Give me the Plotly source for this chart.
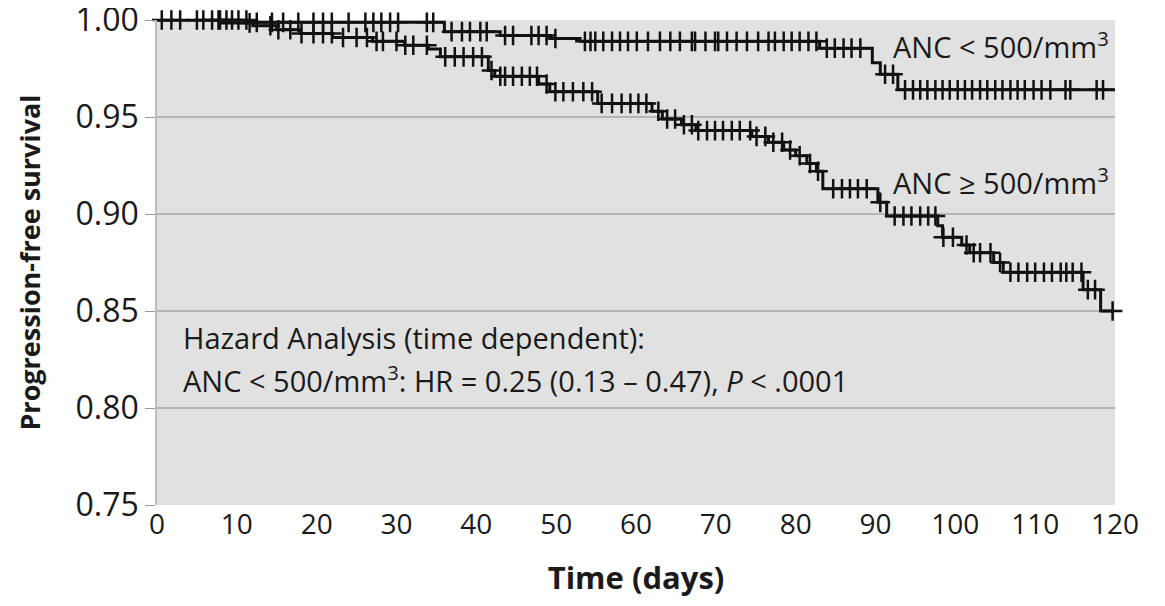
import plotly.graph_objects as go

# ---- Data ----
# ANC < 500/mm3 : step times (days) and survival after each step
low_anc_step_t = [0, 12.5, 36.0, 43.0, 49.3, 53.0, 83.0, 89.6, 90.6, 92.8, 120.0]
low_anc_step_s = [1.000, 0.9988, 0.994, 0.992, 0.9905, 0.989, 0.9855, 0.978, 0.972, 0.964, 0.964]
low_anc_censor = [0.6, 1.8, 2.9, 5.0, 5.8, 6.9, 7.9, 8.7, 9.4, 10.2, 11.2, 12.5, 14.4, 15.8,
                  17.7, 19.6, 20.8, 21.9, 24.0, 26.1, 27.1, 28.1, 29.2, 30.2, 33.8, 34.6,
                  36.9, 38.2, 39.2, 40.5, 41.3, 43.6, 44.6, 46.9, 47.8, 48.8, 49.9, 53.6,
                  54.3, 54.9, 55.9, 57.0, 58.0, 59.0, 60.1, 61.5, 63.0, 64.3, 65.5, 67.0,
                  67.4, 68.7, 69.9, 70.3, 71.4, 72.6, 73.9, 75.3, 76.6, 77.4, 78.5, 79.5,
                  80.5, 81.6, 82.6, 83.9, 84.9, 86.0, 87.0, 88.1, 91.2, 92.2, 93.7, 94.7,
                  95.6, 96.5, 97.5, 98.4, 99.3, 100.3, 101.2, 102.1, 103.1, 104.0, 105.0,
                  105.9, 106.9, 107.8, 108.7, 109.8, 110.8, 111.9, 113.8, 114.4, 117.7, 118.5]

# ANC >= 500/mm3
high_anc_step_t = [0, 8.0, 12.0, 15.0, 18.0, 22.0, 27.0, 31.0, 34.0, 35.5, 41.5, 42.3, 47.8,
                   49.2, 55.2, 62.0, 63.3, 65.7, 67.5, 74.5, 76.6, 78.5, 80.0, 81.4, 82.6,
                   83.4, 90.3, 91.4, 97.8, 98.4, 100.8, 101.8, 104.8, 106.0, 116.0, 118.2, 119.7]
high_anc_step_s = [1.000, 0.9985, 0.997, 0.995, 0.993, 0.991, 0.989, 0.987, 0.985, 0.981,
                   0.974, 0.971, 0.967, 0.963, 0.957, 0.953, 0.949, 0.946, 0.943, 0.940,
                   0.937, 0.933, 0.930, 0.926, 0.922, 0.913, 0.906, 0.899, 0.894, 0.888,
                   0.884, 0.880, 0.875, 0.870, 0.861, 0.850, 0.850]
high_anc_censor = [7.7, 11.6, 14.2, 15.2, 16.7, 18.1, 19.6, 20.8, 21.9, 23.3, 25.0, 26.3,
                   27.5, 28.3, 30.0, 31.1, 32.1, 33.8, 36.1, 37.3, 38.4, 39.6, 40.7, 41.9,
                   43.0, 43.6, 44.6, 45.7, 46.7, 47.6, 48.8, 49.9, 50.9, 52.1, 53.4, 54.5,
                   55.7, 57.0, 58.2, 59.3, 60.3, 61.3, 62.8, 63.9, 64.9, 66.0, 67.0, 67.8,
                   68.9, 69.9, 70.9, 72.0, 73.0, 74.3, 75.1, 76.2, 77.2, 78.3, 79.3, 80.5,
                   81.8, 82.8, 84.7, 85.8, 86.8, 87.8, 88.9, 90.6, 92.4, 93.5, 94.5, 95.6,
                   96.6, 97.5, 98.5, 99.7, 101.4, 102.3, 103.1, 104.4, 105.6, 106.9, 107.9,
                   109.0, 110.0, 111.1, 112.1, 113.2, 113.9, 114.7, 115.8, 116.6, 117.5, 119.7]

x_ticks = [0, 10, 20, 30, 40, 50, 60, 70, 80, 90, 100, 110, 120]
y_ticks = [0.75, 0.80, 0.85, 0.90, 0.95, 1.00]
y_tick_labels = ["0.75", "0.80", "0.85", "0.90", "0.95", "1.00"]


def surv_at(t, ts, ss):
    val = ss[0]
    for ti, si in zip(ts, ss):
        if ti <= t:
            val = si
        else:
            break
    return val


fig = go.Figure()
for ts, ss, cens in [(low_anc_step_t, low_anc_step_s, low_anc_censor),
                     (high_anc_step_t, high_anc_step_s, high_anc_censor)]:
    fig.add_trace(go.Scatter(x=ts, y=ss, mode="lines", line=dict(color="#111111", width=3, shape="hv"),
                             cliponaxis=False, showlegend=False, hoverinfo="skip"))
    fig.add_trace(go.Scatter(x=cens, y=[surv_at(c, ts, ss) for c in cens], mode="markers",
                             marker=dict(symbol="cross-thin", size=14,
                                         line=dict(color="#111111", width=2.5)),
                             cliponaxis=False, showlegend=False))

FONT = "Open Sans"
TXT = "#1a1a1a"
fig.add_annotation(x=92, y=0.987, xref="x", yref="y", xanchor="left", yanchor="middle",
                   text="ANC &lt; 500/mm<sup>3</sup>", showarrow=False,
                   font=dict(family=FONT, size=29, color=TXT))
fig.add_annotation(x=92, y=0.917, xref="x", yref="y", xanchor="left", yanchor="middle",
                   text="ANC ≥ 500/mm<sup>3</sup>", showarrow=False,
                   font=dict(family=FONT, size=29, color=TXT))
fig.add_annotation(x=3.0, y=0.8366, xref="x", yref="y", xanchor="left", yanchor="middle",
                   text="Hazard Analysis (time dependent):", showarrow=False,
                   font=dict(family=FONT, size=29, color=TXT))
fig.add_annotation(x=3.0, y=0.815, xref="x", yref="y", xanchor="left", yanchor="middle",
                   text="ANC &lt; 500/mm<sup>3</sup>: HR = 0.25 (0.13 – 0.47), <i>P</i> &lt; .0001",
                   showarrow=False, font=dict(family=FONT, size=29, color=TXT))

# the page body adds an 8px offset, so margins are reduced by 8px at left/top
fig.update_layout(
    width=1165, height=606,
    margin=dict(l=149, r=58, t=12, b=109, autoexpand=False),
    paper_bgcolor="white", plot_bgcolor="#e1e1e1",
    font=dict(family=FONT, color=TXT),
)
fig.update_xaxes(range=[0, 120], tickvals=x_ticks, showgrid=False, zeroline=False,
                 showline=False, ticks="", automargin=False, ticklabeloverflow="allow",
                 tickfont=dict(family=FONT, size=28),
                 title=dict(text="<b>Time (days)</b>", font=dict(family=FONT, size=31), standoff=26))
fig.update_yaxes(range=[0.75, 1.0], tickvals=y_ticks, ticktext=y_tick_labels,
                 showgrid=True, gridcolor="#b5b5b5", gridwidth=1.5, zeroline=False,
                 showline=True, linecolor="#bdbdbd", linewidth=1.5,
                 ticks="outside", ticklen=10, tickcolor="#9a9a9a", automargin=False,
                 ticklabeloverflow="allow",
                 tickfont=dict(family=FONT, size=32),
                 title=dict(text="<b>Progression-free survival</b>", font=dict(family=FONT, size=27), standoff=27))

fig.write_html("out.html")
